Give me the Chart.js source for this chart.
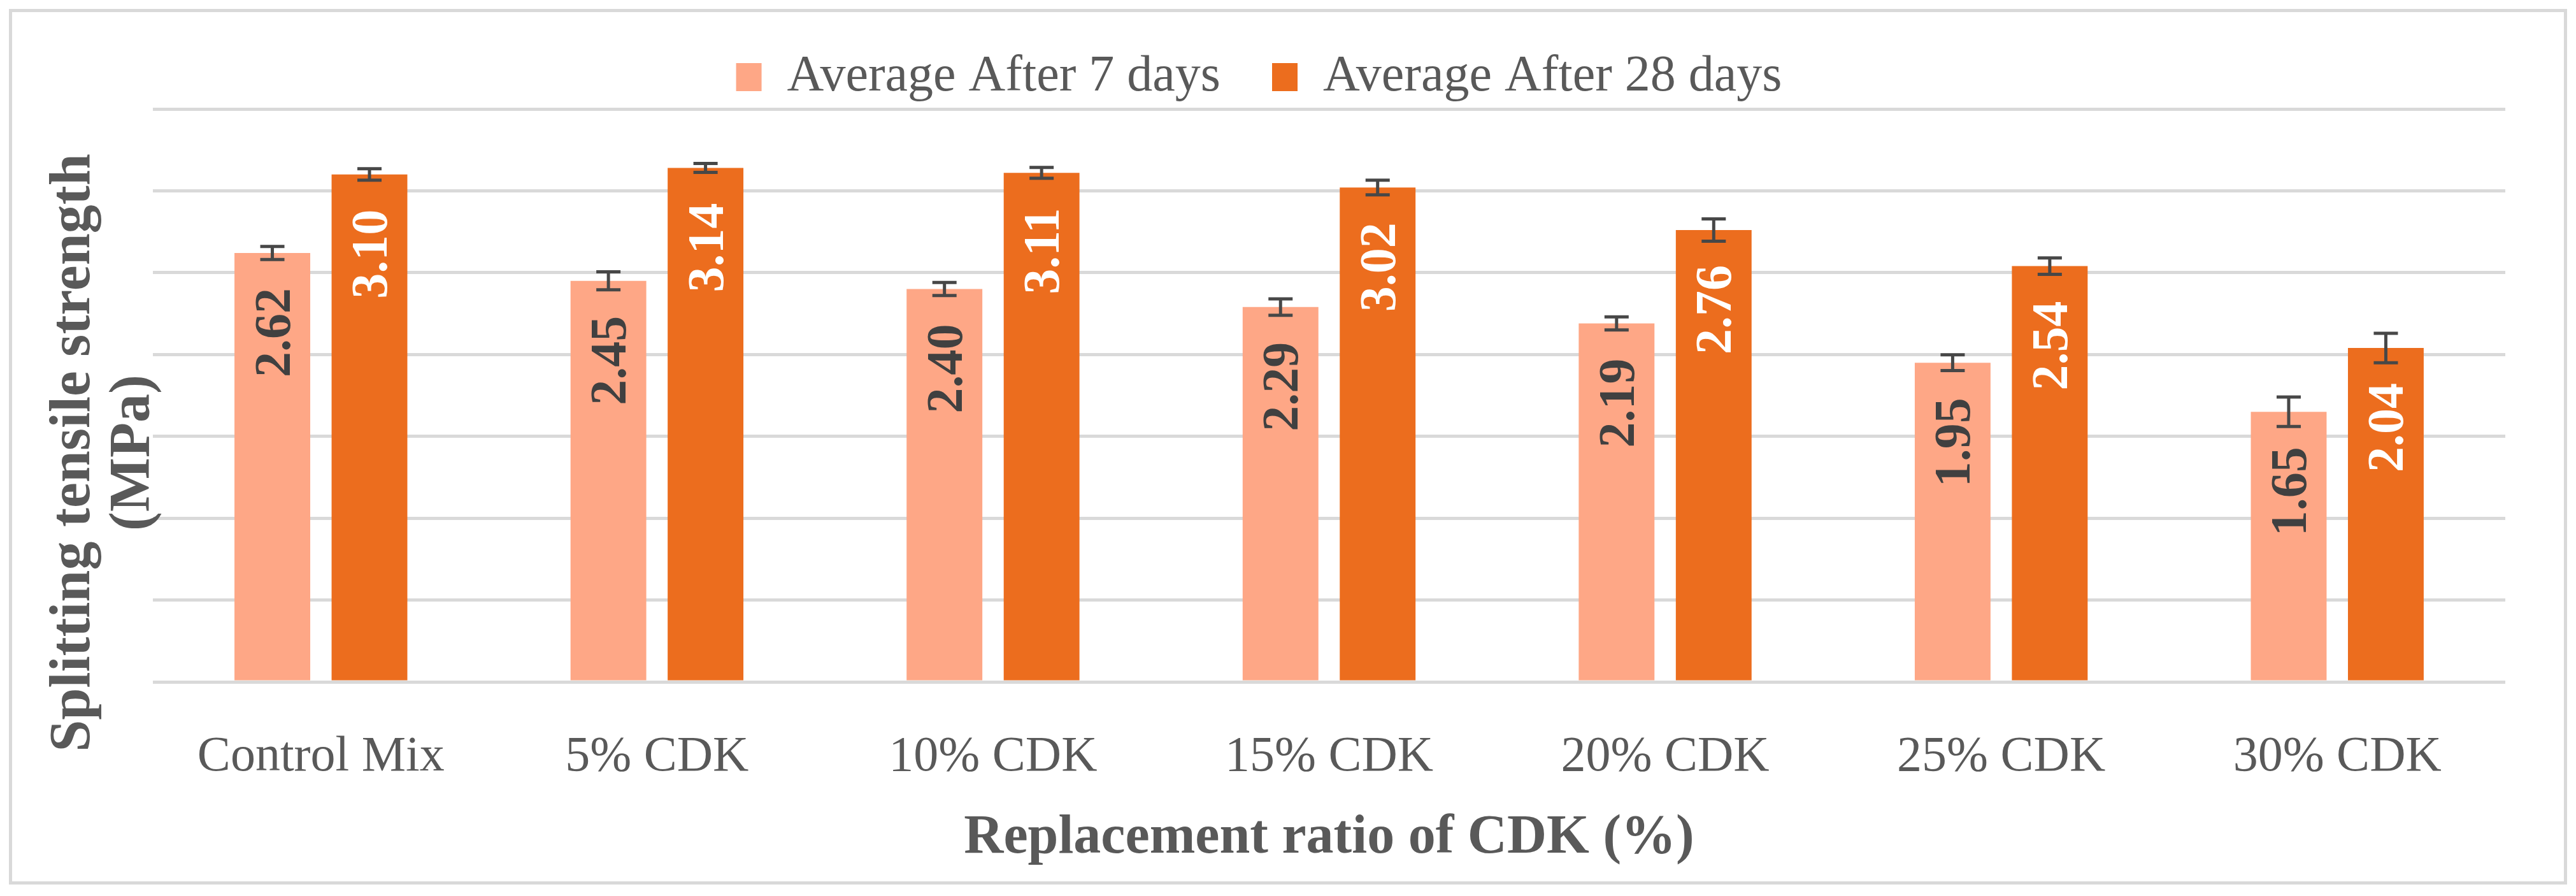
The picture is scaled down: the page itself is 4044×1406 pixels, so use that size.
<!DOCTYPE html>
<html>
<head>
<meta charset="utf-8">
<script src="https://cdn.jsdelivr.net/npm/chart.js@4"></script>
<style>
    body { margin: 0; background: #fff; }
    #wrap { position: relative; width: 4044px; height: 1406px; }
    #frame {
        position: absolute; left: 14px; top: 14px; width: 4016px; height: 1374px;
        box-sizing: border-box; border: 5px solid #d9d9d9; pointer-events: none;
    }
</style>
</head>
<body>
<div id="wrap">
    <canvas id="tensileChart" width="4044" height="1406"></canvas>
    <div id="frame"></div>
</div>
<script>
const categories = ["Control Mix", "5% CDK", "10% CDK", "15% CDK", "20% CDK", "25% CDK", "30% CDK"];
const avg7Days = [2.62, 2.45, 2.40, 2.29, 2.19, 1.95, 1.65];
const avg28Days = [3.10, 3.14, 3.11, 3.02, 2.76, 2.54, 2.04];
const err7Days = [0.04, 0.055, 0.04, 0.05, 0.04, 0.048, 0.09];
const err28Days = [0.035, 0.027, 0.033, 0.045, 0.068, 0.05, 0.09];

const greyText = "#595959";
Chart.defaults.font.family = "'Liberation Serif', 'Times New Roman', serif";
Chart.defaults.color = greyText;

// error bars + rotated value labels, drawn from the bar elements
const barExtras = {
    id: "barExtras",
    afterDatasetsDraw(chart) {
        const ctx = chart.ctx;
        const yScale = chart.scales.y;
        chart.data.datasets.forEach((ds, di) => {
            const meta = chart.getDatasetMeta(di);
            meta.data.forEach((bar, i) => {
                const v = ds.data[i];
                // value label
                ctx.save();
                ctx.translate(bar.x, bar.y + 55);
                ctx.rotate(-Math.PI / 2);
                ctx.font = "bold 80px 'Liberation Serif', serif";
                ctx.fillStyle = ds.labelColor;
                ctx.textAlign = "right";
                ctx.textBaseline = "alphabetic";
                ctx.fillText(v.toFixed(2), 0, 27);
                ctx.restore();
                // error bar
                const e = ds.errors[i];
                const yTop = yScale.getPixelForValue(v + e);
                const yBot = yScale.getPixelForValue(v - e);
                ctx.save();
                ctx.strokeStyle = "#474747";
                ctx.lineWidth = 5;
                ctx.beginPath();
                ctx.moveTo(bar.x, yTop);
                ctx.lineTo(bar.x, yBot);
                ctx.moveTo(bar.x - 19, yTop);
                ctx.lineTo(bar.x + 19, yTop);
                ctx.moveTo(bar.x - 19, yBot);
                ctx.lineTo(bar.x + 19, yBot);
                ctx.stroke();
                ctx.restore();
            });
        });
    },
};

new Chart(document.getElementById("tensileChart"), {
    type: "bar",
    data: {
        labels: categories,
        datasets: [
            {
                label: "Average After 7 days",
                data: avg7Days,
                errors: err7Days,
                labelColor: "#404040",
                backgroundColor: "#fea786",
                categoryPercentage: 0.578,
                barPercentage: 0.78,
            },
            {
                label: "Average After 28 days",
                data: avg28Days,
                errors: err28Days,
                labelColor: "#ffffff",
                backgroundColor: "#ec6d1e",
                categoryPercentage: 0.578,
                barPercentage: 0.78,
            },
        ],
    },
    options: {
        responsive: false,
        animation: false,
        devicePixelRatio: 1,
        layout: { padding: { left: 20, right: 111, top: 0, bottom: 39 } },
        plugins: {
            tooltip: { enabled: false },
            legend: {
                position: "top",
                labels: {
                    font: { size: 80 },
                    color: greyText,
                    boxWidth: 40,
                    boxHeight: 44,
                    padding: 81,
                },
            },
        },
        scales: {
            x: {
                grid: { display: false },
                border: { display: false },
                ticks: { font: { size: 78 }, color: greyText, padding: 64 },
                title: {
                    display: true,
                    text: "Replacement ratio of CDK (%)",
                    font: { size: 86, weight: "bold" },
                    color: greyText,
                    padding: { top: 31, bottom: 0 },
                },
                afterFit(scale) {
                    scale.height = 297;
                },
            },
            y: {
                min: 0,
                max: 3.5,
                ticks: { display: false, stepSize: 0.5 },
                grid: { color: "#d9d9d9", lineWidth: 5, drawTicks: false },
                border: { display: false },
                title: {
                    display: true,
                    // trailing spaces push the centred title down, as in the original
                    text: ["Splitting tensile strength        ", "(MPa)        "],
                    font: { size: 90, weight: "bold", lineHeight: 1.05 },
                    color: greyText,
                    padding: { top: 49, bottom: 0 },
                },
                afterFit(scale) {
                    scale.width = 220;
                },
            },
        },
    },
    plugins: [barExtras],
});
</script>
</body>
</html>
